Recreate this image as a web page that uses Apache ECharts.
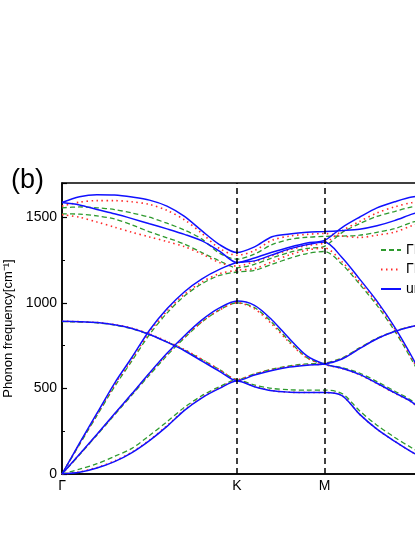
<!DOCTYPE html>
<html>
<head>
<meta charset="utf-8">
<script src="https://cdn.jsdelivr.net/npm/echarts@6/dist/echarts.min.js"></script>
<style>
  html, body { margin: 0; padding: 0; background: #fff; overflow: hidden; }
  #chart { width: 490px; height: 537px; }
</style>
</head>
<body>
<div id="chart"></div>
<script>
// k-path: Γ(0) -> K(1) -> M(1.5) -> Γ(2.366)
const kpath = [0, 0.1, 0.2, 0.3, 0.4, 0.5, 0.6, 0.7, 0.8, 0.9, 1.0,
  1.1, 1.2, 1.3, 1.4, 1.5,
  1.6, 1.7, 1.8, 1.9, 2.0, 2.1, 2.2, 2.3, 2.366];
const kLabels = ['Γ', 'K', 'M', 'Γ'];
const kLabelPos = [0, 1, 1.5, 2.366];
const yTicks = [0, 500, 1000, 1500];
const seriesNames = ['ΓK strain', 'ΓM strain', 'unstrained'];

// unstrained (blue)
const blueZA = [0, 10, 35, 72, 125, 195, 278, 372, 445, 500, 543, 510, 486, 478, 476, 476, 458, 350, 262, 192, 128, 75, 35, 9, 0];
const blueTA = [0, 115, 232, 352, 470, 590, 705, 808, 900, 970, 1010, 985, 900, 790, 690, 642, 618, 582, 530, 475, 420, 330, 215, 85, 0];
const blueZO = [892, 890, 885, 872, 850, 815, 770, 720, 660, 600, 545, 578, 605, 625, 636, 642, 672, 732, 790, 832, 862, 880, 888, 891, 892];
const blueLA = [0, 180, 355, 530, 682, 840, 965, 1065, 1140, 1195, 1235, 1245, 1280, 1315, 1340, 1355, 1265, 1140, 1010, 860, 685, 490, 295, 115, 0];
const blueLO = [1586, 1572, 1545, 1520, 1492, 1462, 1432, 1400, 1362, 1302, 1235, 1262, 1295, 1325, 1350, 1365, 1440, 1500, 1555, 1590, 1618, 1625, 1615, 1598, 1586];
const blueTO = [1586, 1620, 1632, 1630, 1618, 1600, 1565, 1505, 1420, 1340, 1294, 1327, 1386, 1402, 1412, 1416, 1422, 1430, 1450, 1480, 1518, 1550, 1570, 1582, 1586];

// green dashed
const greenZA = [0, 28, 60, 103, 150, 225, 305, 390, 458, 510, 550, 520, 500, 492, 490, 490, 470, 370, 285, 215, 152, 95, 50, 16, 0];
const greenTA = [0, 112, 228, 345, 462, 578, 692, 795, 888, 958, 1000, 972, 885, 775, 680, 640, 622, 590, 540, 485, 428, 335, 218, 88, 0];
const greenZO = [890, 888, 883, 870, 848, 815, 772, 724, 668, 610, 552, 585, 612, 632, 643, 648, 678, 737, 793, 834, 862, 878, 886, 889, 890];
const greenLA = [0, 172, 342, 510, 662, 815, 940, 1040, 1112, 1160, 1180, 1190, 1225, 1260, 1288, 1300, 1225, 1110, 985, 838, 665, 472, 285, 110, 0];
const greenLO = [1520, 1518, 1508, 1490, 1455, 1415, 1380, 1343, 1293, 1245, 1205, 1225, 1262, 1295, 1318, 1330, 1410, 1462, 1505, 1533, 1560, 1570, 1568, 1560, 1555];
const greenTO = [1555, 1560, 1555, 1545, 1525, 1500, 1465, 1425, 1372, 1290, 1255, 1285, 1340, 1370, 1383, 1388, 1390, 1395, 1412, 1433, 1470, 1495, 1510, 1518, 1520];

// red dotted
const redZA = [0, 12, 38, 76, 128, 198, 282, 375, 448, 503, 546, 512, 487, 478, 476, 476, 458, 350, 262, 192, 128, 75, 35, 9, 0];
const redTA = [0, 114, 230, 349, 467, 586, 700, 800, 890, 958, 1000, 965, 875, 768, 678, 640, 616, 580, 528, 473, 418, 328, 212, 84, 0];
const redZO = [892, 890, 885, 873, 852, 818, 775, 727, 670, 610, 552, 583, 610, 628, 638, 644, 674, 734, 791, 833, 862, 880, 888, 891, 892];
const redLA = [0, 176, 348, 520, 672, 828, 952, 1050, 1122, 1170, 1190, 1200, 1240, 1280, 1308, 1320, 1240, 1122, 998, 850, 675, 480, 290, 112, 0];
const redLO = [1515, 1500, 1472, 1442, 1412, 1385, 1358, 1328, 1285, 1235, 1215, 1240, 1275, 1310, 1335, 1350, 1420, 1475, 1525, 1560, 1585, 1590, 1582, 1570, 1565];
const redTO = [1565, 1588, 1597, 1597, 1590, 1575, 1540, 1485, 1405, 1318, 1278, 1305, 1365, 1390, 1400, 1405, 1390, 1382, 1395, 1413, 1450, 1480, 1500, 1512, 1515];

const FONT = 'Liberation Sans, Arial, sans-serif';

// 每条能带一个 series，同名 series 共用一个图例
function band(name, values, lineStyle) {
  return {
    name: name,
    type: 'line',
    data: kpath.map((x, i) => [x, values[i]]),
    smooth: 0.3,
    showSymbol: false,
    symbol: 'none',
    silent: true,
    lineStyle: lineStyle,
    itemStyle: { color: lineStyle.color },
  };
}

const greenStyle = { color: '#2e9a2e', width: 1.3, type: [5, 3] };
const redStyle = { color: '#ff2a2a', width: 1.6, type: [1.5, 3.5] };
const blueStyle = { color: '#1010ff', width: 1.5, type: 'solid' };

let series = [];
[greenZA, greenTA, greenZO, greenLA, greenLO, greenTO].forEach((v) => series.push(band(seriesNames[0], v, greenStyle)));
[redZA, redTA, redZO, redLA, redLO, redTO].forEach((v) => series.push(band(seriesNames[1], v, redStyle)));
[blueZA, blueTA, blueZO, blueLA, blueLO, blueTO].forEach((v) => series.push(band(seriesNames[2], v, blueStyle)));

// K、M 处的竖直虚线
series[0].markLine = {
  silent: true,
  symbol: 'none',
  label: { show: false },
  lineStyle: { color: '#000', width: 1.5, type: [6, 4] },
  data: [{ xAxis: kLabelPos[1] }, { xAxis: kLabelPos[2] }],
};

const myChart = echarts.init(document.getElementById('chart'), null, { renderer: 'canvas' });
myChart.setOption({
  animation: false,
  backgroundColor: '#fff',
  textStyle: { fontFamily: FONT },
  graphic: [
    {
      type: 'text',
      left: 11,
      top: 167,
      style: { text: '(b)', fontSize: 27, fontFamily: FONT, fill: '#000' },
    },
  ],
  grid: {
    left: 62,
    top: 183,
    width: 414,
    height: 291,
    containLabel: false,
    outerBoundsMode: 'none',
    show: true,
    borderColor: '#000',
    borderWidth: 1.5,
  },
  legend: {
    show: true,
    data: seriesNames,
    orient: 'vertical',
    left: 375,
    top: 238,
    itemWidth: 20,
    itemHeight: 14,
    itemGap: 5.5,
    itemStyle: { color: 'rgba(0,0,0,0)', borderWidth: 0 },
    textStyle: { fontSize: 14, color: '#000', fontFamily: FONT },
  },
  xAxis: {
    type: 'value',
    min: 0,
    max: kpath[kpath.length - 1],
    axisLine: { show: true, lineStyle: { color: '#000', width: 1.5 } },
    axisTick: { show: false },
    splitLine: { show: false },
    axisLabel: {
      customValues: kLabelPos,
      formatter: (v) => kLabels[kLabelPos.indexOf(v)] || '',
      color: '#000',
      fontSize: 14,
      fontFamily: FONT,
      margin: 5,
    },
  },
  yAxis: {
    type: 'value',
    min: 0,
    max: 1700,
    interval: 500,
    name: 'Phonon frequency[cm⁻¹]',
    nameLocation: 'middle',
    nameGap: 40,
    nameTextStyle: { fontSize: 13, color: '#000', fontFamily: FONT },
    axisLine: { show: true, lineStyle: { color: '#000', width: 1.5 } },
    axisTick: { show: true, inside: true, length: 5, lineStyle: { color: '#000', width: 1.2 } },
    minorTick: { show: true, splitNumber: 2, length: 3, lineStyle: { color: '#000', width: 1 } },
    splitLine: { show: false },
    axisLabel: {
      customValues: yTicks,
      formatter: (v) => String(v),
      color: '#000',
      fontSize: 14,
      fontFamily: FONT,
      margin: 5,
    },
  },
  series: series,
});
</script>
</body>
</html>
